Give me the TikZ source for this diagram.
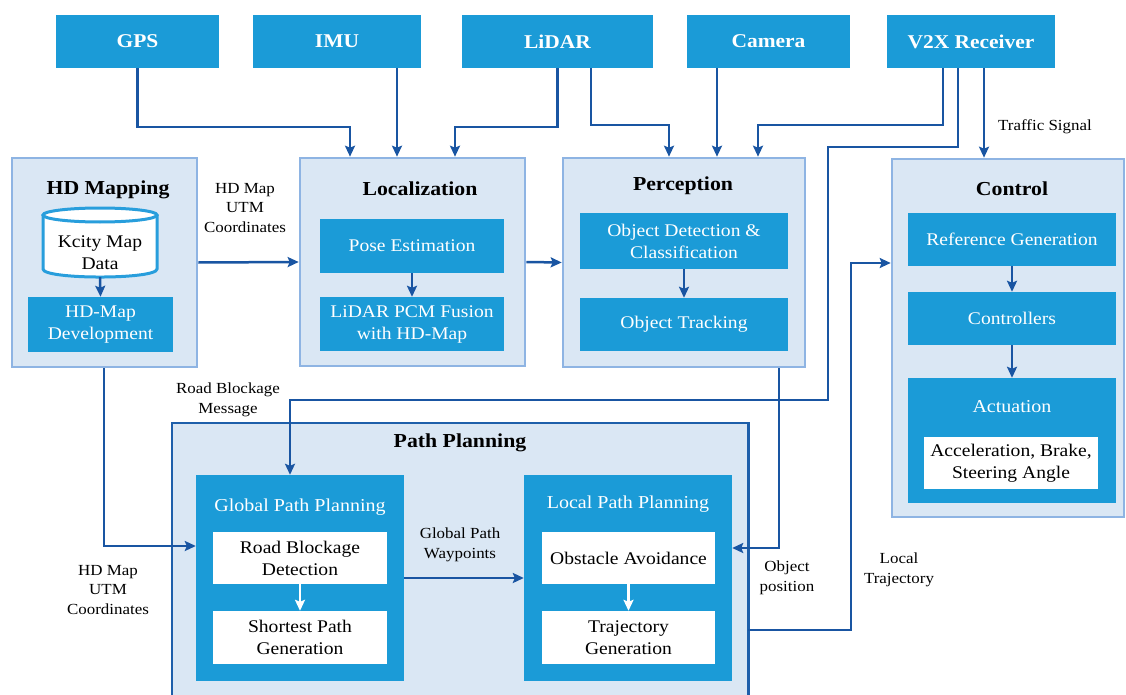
\documentclass[tikz,border=0pt]{standalone}
\usepackage{fontspec}
\setmainfont{Liberation Serif}[FakeStretch=1.1]
\usetikzlibrary{arrows.meta,calc}
\definecolor{boxblue}{RGB}{27,155,215}
\definecolor{contfill}{RGB}{218,231,244}
\definecolor{contline}{RGB}{142,180,227}
\definecolor{linkblue}{RGB}{25,85,162}
\definecolor{ppline}{RGB}{30,95,170}
\definecolor{cylline}{RGB}{40,158,220}
\begin{document}
\begin{tikzpicture}[x=1pt,y=-1pt,
  sensor/.style={fill=boxblue, text=white, inner sep=0pt, minimum height=53pt,
    font=\fontsize{19.5}{23}\selectfont\bfseries},
  cont/.style={draw=contline, line width=2.6pt, fill=contfill, inner sep=0pt},
  bbox/.style={fill=boxblue, text=white, align=center, inner sep=0pt,
    font=\fontsize{17.8}{22}\selectfont},
  wbox/.style={fill=white, text=black, align=center, inner sep=0pt,
    font=\fontsize{17.8}{22}\selectfont},
  ttl/.style={font=\fontsize{19.8}{23}\selectfont\bfseries, inner sep=0pt},
  subttl/.style={text=white, font=\fontsize{18.2}{22}\selectfont, inner sep=0pt},
  lbl/.style={align=center, inner sep=0pt, font=\fontsize{15.4}{19.8}\selectfont},
  tip/.style={-{Stealth[length=11pt,width=10pt,inset=2pt]}},
  conn/.style={draw=linkblue, line width=2.5pt, tip},
  wconn/.style={draw=white, line width=2.5pt, tip},
  cyl/.style={draw=cylline, line width=3pt}
]
\useasboundingbox (0,0) rectangle (1126,695);

% ---- sensors ----
\node[sensor, minimum width=163pt] (gps)    at (137.5,41.5) {GPS};
\node[sensor, minimum width=168pt] (imu)    at (337,41.5)   {IMU};
\node[sensor, minimum width=191pt] (lidar)  at (557.5,41.5) {LiDAR};
\node[sensor, minimum width=163pt] (camera) at (768.5,41.5) {Camera};
\node[sensor, minimum width=168pt] (v2x)    at (971,41.5)   {V2X Receiver};

% ---- module containers ----
\node[cont, minimum width=185pt, minimum height=209pt] (hdmap) at (104.5,262.5) {};
\node[cont, minimum width=225pt, minimum height=208pt] (loc)   at (412.5,262)   {};
\node[cont, minimum width=242pt, minimum height=209pt] (perc)  at (684,262.5)   {};
\node[cont, minimum width=232pt, minimum height=358pt] (ctrl)  at (1008,338)    {};
\node[fill=contfill, inner sep=0pt, minimum width=576pt, minimum height=272pt,
      anchor=north west] (pp) at (172,423) {};
\draw[ppline, line width=2.6pt] (pp.south west) |- (pp.north east) -- (pp.south east);

% ---- titles ----
\node[ttl] (thd)   at (108,190)  {HD Mapping};
\node[ttl] (tloc)  at (420,189)  {Localization};
\node[ttl] (tperc) at (683,186)  {Perception};
\node[ttl] (tctrl) at (1012,189) {Control};
\node[ttl] (tpp)   at (460,443)  {Path Planning};

% ---- HD mapping ----
\path[fill=white] (43,215) -- (43,269) .. controls (43,279.7) and (157,279.7) .. (157,269) -- (157,215) -- cycle;
\draw[cyl] (43,215) -- (43,269) .. controls (43,279.7) and (157,279.7) .. (157,269) -- (157,215);
\draw[cyl, fill=white] (100,215) ellipse [x radius=57, y radius=7];
\node[wbox, fill=none, minimum width=114pt, minimum height=49pt] (kcity) at (100,252.5) {Kcity Map\\Data};
\node[bbox, minimum width=145pt, minimum height=55pt] (hddev) at (100.5,324.5) {HD-Map\\Development};

% ---- localization ----
\node[bbox, minimum width=184pt, minimum height=54pt] (pose)   at (412,246) {Pose Estimation};
\node[bbox, minimum width=184pt, minimum height=54pt] (fusion) at (412,324) {LiDAR PCM Fusion\\with HD-Map};

% ---- perception ----
\node[bbox, minimum width=208pt, minimum height=56pt] (objdet) at (684,241)   {Object Detection \&\\Classification};
\node[bbox, minimum width=208pt, minimum height=53pt] (track)  at (684,324.5) {Object Tracking};

% ---- control ----
\node[bbox, minimum width=208pt, minimum height=53pt]  (refgen) at (1012,239.5) {Reference Generation};
\node[bbox, minimum width=208pt, minimum height=53pt]  (ctrlr)  at (1012,318.5) {Controllers};
\node[bbox, minimum width=208pt, minimum height=125pt] (actu)   at (1012,440.5) {};
\node[subttl] (tactu) at (1012,407) {Actuation};
\node[wbox, minimum width=174pt, minimum height=52pt] (accel) at (1011,463) {Acceleration, Brake,\\Steering Angle};

% ---- path planning ----
\node[bbox, minimum width=208pt, minimum height=206pt] (gpp) at (300,578) {};
\node[subttl] (tgpp) at (300,507) {Global Path Planning};
\node[wbox, minimum width=174pt, minimum height=52pt] (rbd) at (300,558)   {Road Blockage\\Detection};
\node[wbox, minimum width=174pt, minimum height=53pt] (spg) at (300,637.5) {Shortest Path\\Generation};
\node[bbox, minimum width=208pt, minimum height=206pt] (lpp) at (628,578) {};
\node[subttl] (tlpp) at (628,504) {Local Path Planning};
\node[wbox, minimum width=173pt, minimum height=52pt] (oa) at (628.5,558)   {Obstacle Avoidance};
\node[wbox, minimum width=173pt, minimum height=53pt] (tg) at (628.5,637.5) {Trajectory\\Generation};

% ---- connector labels ----
\node[lbl] (lhd1) at (245,208)  {HD Map\\UTM\\Coordinates};
\node[lbl] (lrb)  at (228,400)  {Road Blockage\\Message};
\node[lbl] (lhd2) at (108,590)  {HD Map\\UTM\\Coordinates};
\node[lbl] (lgw)  at (460,545)  {Global Path\\Waypoints};
\node[lbl] (lobj) at (787,578)  {Object\\position};
\node[lbl] (llt)  at (899,570)  {Local\\Trajectory};
\node[lbl] (lts)  at (1045,127) {Traffic Signal};

% ---- sensor connectors ----
\draw[conn] (gps.south) |- (350,127) -- (350,0 |- loc.north);
\draw[conn] (imu.south -| 397,0) -- (397,0 |- loc.north);
\draw[conn] (lidar.south) |- (455,127) -- (455,0 |- loc.north);
\draw[conn] (lidar.south -| 591,0) |- (669,125) -- (669,0 |- perc.north);
\draw[conn] (camera.south -| 717,0) -- (717,0 |- perc.north);
\draw[conn] (v2x.south -| 943,0) |- (758,125) -- (758,0 |- perc.north);
\draw[conn] (v2x.south -| 958,0) |- (828,147) |- (290,400) -- (290,0 |- gpp.north);
\draw[conn] (v2x.south -| 984,0) -- (984,0 |- ctrl.north);

% ---- module connectors ----
\draw[conn] (hdmap.east) -- (loc.west);
\draw[conn] (loc.east) -- (perc.west);
\draw[conn] (hdmap.south -| 104,0) |- (gpp.west |- 0,546);
\draw[conn] (perc.south -| 779,0) |- (lpp.east |- 0,548);
\draw[conn] (pp.east |- 0,630) -| (851,263) -- (ctrl.west |- 0,263);
\draw[conn] (gpp.east) -- (lpp.west);

% ---- internal flow ----
\draw[conn] (kcity.south) -- (hddev.north);
\draw[conn] (pose.south) -- (fusion.north);
\draw[conn] (objdet.south) -- (track.north);
\draw[conn] (refgen.south) -- (ctrlr.north);
\draw[conn] (ctrlr.south) -- (actu.north);
\draw[wconn] (rbd.south) -- (spg.north);
\draw[wconn] (oa.south) -- (tg.north);
\end{tikzpicture}
\end{document}
